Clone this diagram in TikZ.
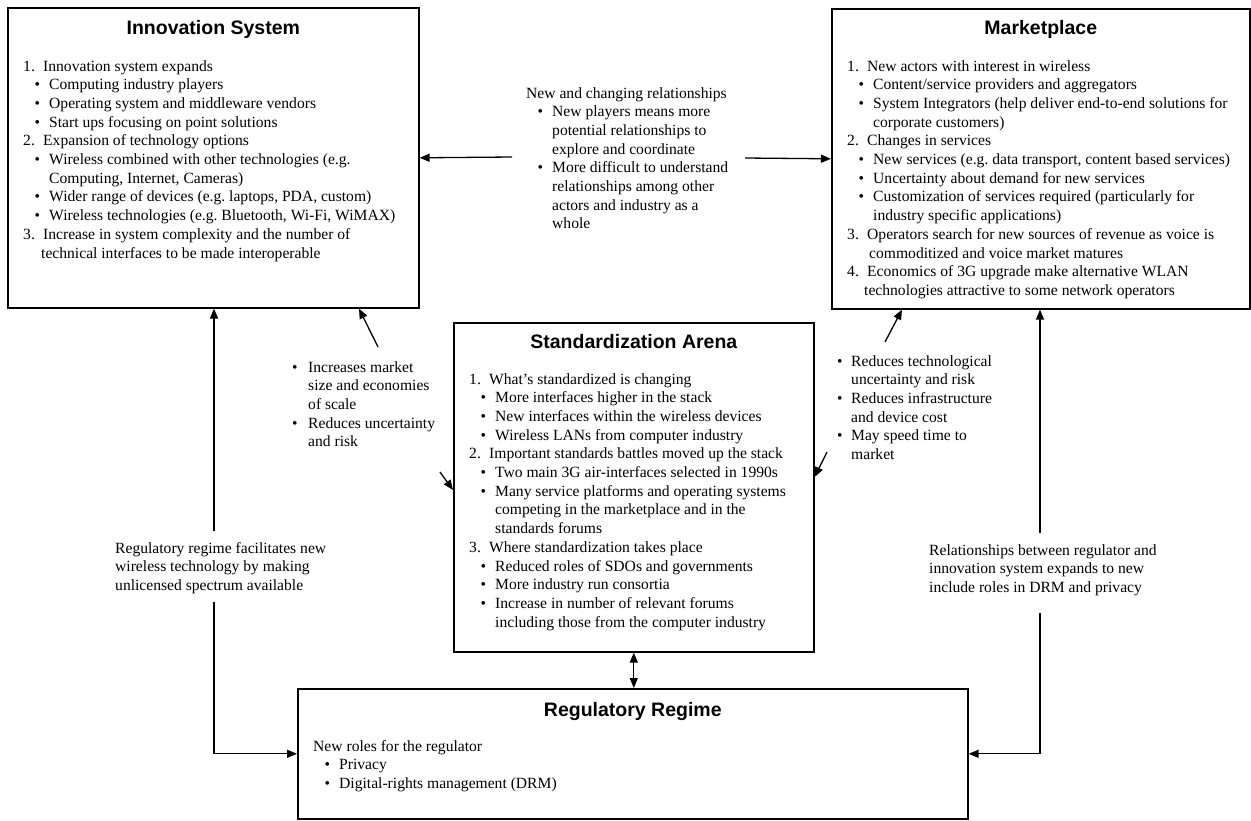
\documentclass[tikz,border=0pt]{standalone}
\usepackage{fontspec}
\setmainfont{Liberation Serif}
\newfontfamily\titlefont{Liberation Sans}
\usetikzlibrary{arrows.meta}
\newcommand{\Num}[2]{\hbox{\hbox to 20pt{#1\hfil}#2}}
\newcommand{\Bul}[1]{\hbox{\kern11.5pt\hbox to 14.5pt{\textbullet\hfil}#1}}
\newcommand{\BulC}[1]{\hbox{\kern26pt #1}}
\newcommand{\NumC}[2]{\hbox{\kern#1 #2}}
\newcommand{\Plain}[1]{\hbox{#1}}
\newcommand{\SBul}[2]{\hbox{\hbox to #1{\textbullet\hfil}#2}}
\newcommand{\SBulC}[2]{\hbox{\kern#1 #2}}
\tikzset{
 box/.style={draw=black, line width=1.6pt, inner sep=0pt, anchor=north west},
 title/.style={font=\titlefont\bfseries\fontsize{19.5}{23}\selectfont, inner sep=0pt, anchor=base},
 body/.style={font=\fontsize{15.6}{18.7}\selectfont\frenchspacing, inner sep=0pt, anchor=base west},
 ln/.style={line width=1.3pt},
 arr/.style={ln, -{Triangle[length=10pt,width=8pt]}},
 darr/.style={ln, {Triangle[length=10pt,width=8pt]}-{Triangle[length=10pt,width=8pt]}},
}
\begin{document}
\begin{tikzpicture}[x=1pt,y=-1pt]
\useasboundingbox[fill=white] (0,0) rectangle (1251,820);

% boxes
\node[box, minimum width=411pt, minimum height=300pt] (inn) at (7,7) {};
\node[box, minimum width=418pt, minimum height=300pt] (mkt) at (831,8) {};
\node[box, minimum width=360pt, minimum height=329pt] (std) at (453,322) {};
\node[box, minimum width=670pt, minimum height=130pt] (reg) at (297,688) {};

% titles
\path (inn.north) ++(0,27) node[title] (innT) {Innovation System};
\path (mkt.north) ++(0,26) node[title] (mktT) {Marketplace};
\path (std.north) ++(0,26) node[title] (stdT) {Standardization Arena};
\path (reg.north) ++(0,28) node[title] (regT) {Regulatory Regime};

% bodies
\node[body] (innB) at (23,71) {\vtop{%
\Num{1.}{Innovation system expands}
\Bul{Computing industry players}
\Bul{Operating system and middleware vendors}
\Bul{Start ups focusing on point solutions}
\Num{2.}{Expansion of technology options}
\Bul{Wireless combined with other technologies (e.g.}
\BulC{Computing, Internet, Cameras)}
\Bul{Wider range of devices (e.g. laptops, PDA, custom)}
\Bul{Wireless technologies (e.g. Bluetooth, Wi-Fi, WiMAX)}
\Num{3.}{Increase in system complexity and the number of}
\NumC{18pt}{technical interfaces to be made interoperable}}};

\node[body] (mktB) at (847,71) {\vtop{%
\Num{1.}{New actors with interest in wireless}
\Bul{Content/service providers and aggregators}
\Bul{System Integrators (help deliver end-to-end solutions for}
\BulC{corporate customers)}
\Num{2.}{Changes in services}
\Bul{New services (e.g. data transport, content based services)}
\Bul{Uncertainty about demand for new services}
\Bul{Customization of services required (particularly for}
\BulC{industry specific applications)}
\Num{3.}{Operators search for new sources of revenue as voice is}
\NumC{22pt}{commoditized and voice market matures}
\Num{4.}{Economics of 3G upgrade make alternative WLAN}
\NumC{17pt}{technologies attractive to some network operators}}};

\node[body] (stdB) at (469,384) {\vtop{%
\Num{1.}{What’s standardized is changing}
\Bul{More interfaces higher in the stack}
\Bul{New interfaces within the wireless devices}
\Bul{Wireless LANs from computer industry}
\Num{2.}{Important standards battles moved up the stack}
\Bul{Two main 3G air-interfaces selected in 1990s}
\Bul{Many service platforms and operating systems}
\BulC{competing in the marketplace and in the}
\BulC{standards forums}
\Num{3.}{Where standardization takes place}
\Bul{Reduced roles of SDOs and governments}
\Bul{More industry run consortia}
\Bul{Increase in number of relevant forums}
\BulC{including those from the computer industry}}};

\node[body] (regB) at (313,751) {\vtop{%
\Plain{New roles for the regulator}
\Bul{Privacy}
\Bul{Digital-rights management (DRM)}}};

% connector labels
\node[body] (rel) at (526,98) {\vtop{%
\Plain{New and changing relationships}
\Bul{New players means more}
\BulC{potential relationships to}
\BulC{explore and coordinate}
\Bul{More difficult to understand}
\BulC{relationships among other}
\BulC{actors and industry as a}
\BulC{whole}}};

\node[body] (lmid) at (292,372) {\vtop{%
\SBul{16pt}{Increases market}
\SBulC{16pt}{size and economies}
\SBulC{16pt}{of scale}
\SBul{16pt}{Reduces uncertainty}
\SBulC{16pt}{and risk}}};

\node[body] (rmid) at (837,366) {\vtop{%
\SBul{14pt}{Reduces technological}
\SBulC{14pt}{uncertainty and risk}
\SBul{14pt}{Reduces infrastructure}
\SBulC{14pt}{and device cost}
\SBul{14pt}{May speed time to}
\SBulC{14pt}{market}}};

\node[body] (lreg) at (115,553) {\vtop{%
\Plain{Regulatory regime facilitates new}
\Plain{wireless technology by making}
\Plain{unlicensed spectrum available}}};

\node[body] (rreg) at (929,555) {\vtop{%
\Plain{Relationships between regulator and}
\Plain{innovation system expands to new}
\Plain{include roles in DRM and privacy}}};

% connector end points
\coordinate (cL) at (512,157);
\coordinate (cR) at (745,158);
\coordinate (lv1) at (214,531);
\coordinate (lv2) at (214,602);
\coordinate (rv1) at (1040,533);
\coordinate (rv2) at (1040,613);
\coordinate (dA) at (378,347);
\coordinate (dB) at (440,472);
\coordinate (dC) at (885,342);
\coordinate (dD) at (827,452);
\path (inn.south west) ++(352,0) coordinate (tA);
\path (std.north west) ++(0,168) coordinate (tB);
\path (mkt.south west) ++(71,0) coordinate (tC);
\path (std.north east) ++(0,155) coordinate (tD);

% connectors
\draw[arr] (cL) -- (inn.east);
\draw[arr] (cR) -- (mkt.west);
\draw[arr] (lv1) -- (inn.south -| lv1);
\draw[arr] (lv2) |- (reg.west);
\draw[arr] (rv1) -- (mkt.south -| rv1);
\draw[arr] (rv2) |- (reg.east);
\draw[darr] (std.south) -- (reg.north -| std.south);
\draw[arr] (dA) -- (tA);
\draw[arr] (dB) -- (tB);
\draw[arr] (dC) -- (tC);
\draw[arr] (dD) -- (tD);
\end{tikzpicture}
\end{document}
